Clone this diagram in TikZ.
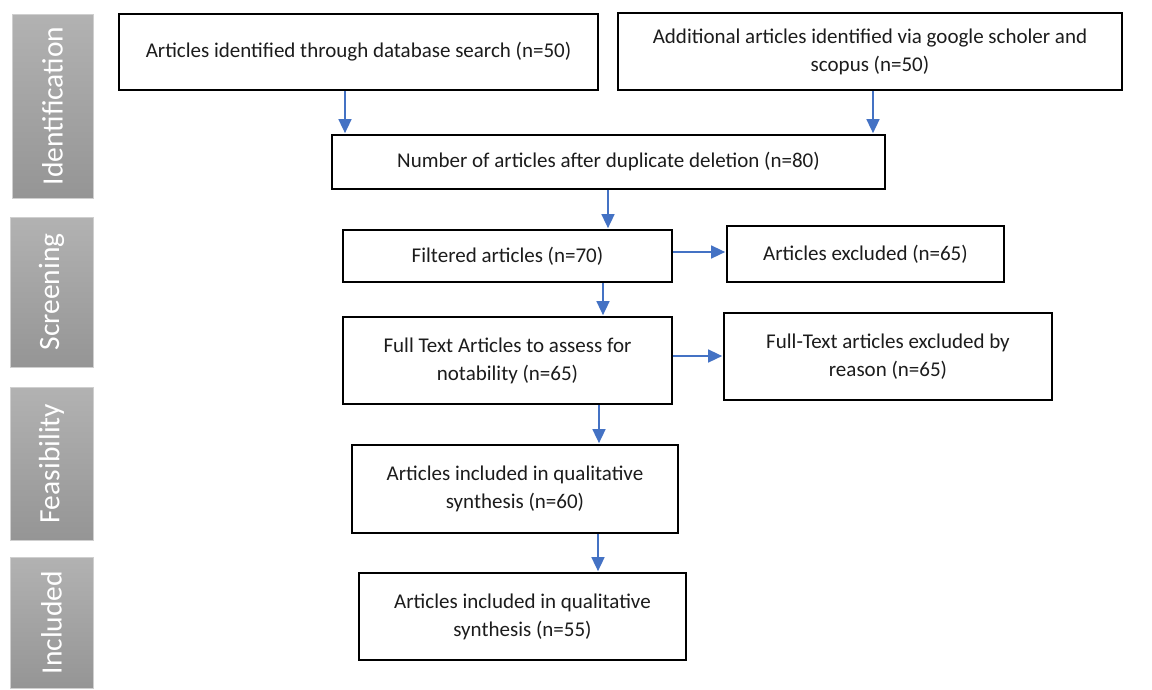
\documentclass[tikz,border=0pt]{standalone}
\usepackage{fontspec}
\setmainfont{Carlito}
\usepackage{graphicx}
\usetikzlibrary{arrows.meta,calc}
\definecolor{arrblue}{HTML}{4472C4}
\definecolor{bartop}{HTML}{B2B2B2}
\definecolor{barbot}{HTML}{959595}
\definecolor{barline}{HTML}{CFCFCF}
\definecolor{txt}{HTML}{1C1C1C}
\tikzset{
  box/.style={draw=black, line width=2.7pt, fill=white, align=center, inner sep=0pt,
    text=txt, font=\fontsize{21}{28}\selectfont},
  sidebar/.style={draw=barline, line width=0.8pt, top color=bartop, bottom color=barbot,
    inner sep=0pt, text=white, font=\fontsize{29.5}{34}\selectfont},
  arr/.style={draw=arrblue, line width=1.5pt, -{Triangle[width=13pt,length=14pt]}, shorten >=0.5pt}
}
\begin{document}
\begin{tikzpicture}[x=1pt,y=-1pt]
\useasboundingbox (0,0) rectangle (1152,689);
% side bars
\node[sidebar, minimum width=81pt, minimum height=184pt] (s1) at (52.5,106) {\rotatebox{90}{Identification}};
\node[sidebar, minimum width=83pt, minimum height=150pt] (s2) at (51.5,292) {\rotatebox{90}{Screening}};
\node[sidebar, minimum width=83pt, minimum height=153pt] (s3) at (51.5,463.5) {\rotatebox{90}{Feasibility}};
\node[sidebar, minimum width=83pt, minimum height=131pt] (s4) at (51.5,622.5) {\rotatebox{90}{Included}};
% boxes
\node[box, minimum width=479pt, minimum height=76pt] (b1) at (358.5,52) {Articles identified through database search (n=50)};
\node[box, minimum width=504pt, minimum height=77pt] (b2) at (870,51.5) {Additional articles identified via google scholer and\\scopus (n=50)};
\node[box, minimum width=553pt, minimum height=54pt] (b3) at (608.5,162) {Number of articles after duplicate deletion (n=80)};
\node[box, minimum width=329pt, minimum height=52pt] (b4) at (507.5,256) {Filtered articles (n=70)};
\node[box, minimum width=277pt, minimum height=56pt] (b5) at (865.5,254) {Articles excluded (n=65)};
\node[box, minimum width=329pt, minimum height=87pt] (b6) at (507.5,360.5) {Full Text Articles to assess for\\notability (n=65)};
\node[box, minimum width=328pt, minimum height=87pt] (b7) at (888,356.5) {Full-Text articles excluded by\\reason (n=65)};
\node[box, minimum width=326pt, minimum height=88pt] (b8) at (515,489) {Articles included in qualitative\\synthesis (n=60)};
\node[box, minimum width=327pt, minimum height=87pt] (b9) at (522.5,616.5) {Articles included in qualitative\\synthesis (n=55)};
% connector guide coordinates
\coordinate (x1) at (345,0);
\coordinate (x2) at (873,0);
\coordinate (x3) at (608,0);
\coordinate (x4) at (603,0);
\coordinate (x5) at (599,0);
\coordinate (x6) at (598,0);
\coordinate (y1) at (0,252);
\coordinate (y2) at (0,356);
% connectors
\draw[arr] (b1.south -| x1) -- (b3.north -| x1);
\draw[arr] (b2.south -| x2) -- (b3.north -| x2);
\draw[arr] (b3.south -| x3) -- (b4.north -| x3);
\draw[arr] (b4.east |- y1) -- (b5.west |- y1);
\draw[arr] (b4.south -| x4) -- (b6.north -| x4);
\draw[arr] (b6.east |- y2) -- (b7.west |- y2);
\draw[arr] (b6.south -| x5) -- (b8.north -| x5);
\draw[arr] (b8.south -| x6) -- (b9.north -| x6);
\end{tikzpicture}
\end{document}
